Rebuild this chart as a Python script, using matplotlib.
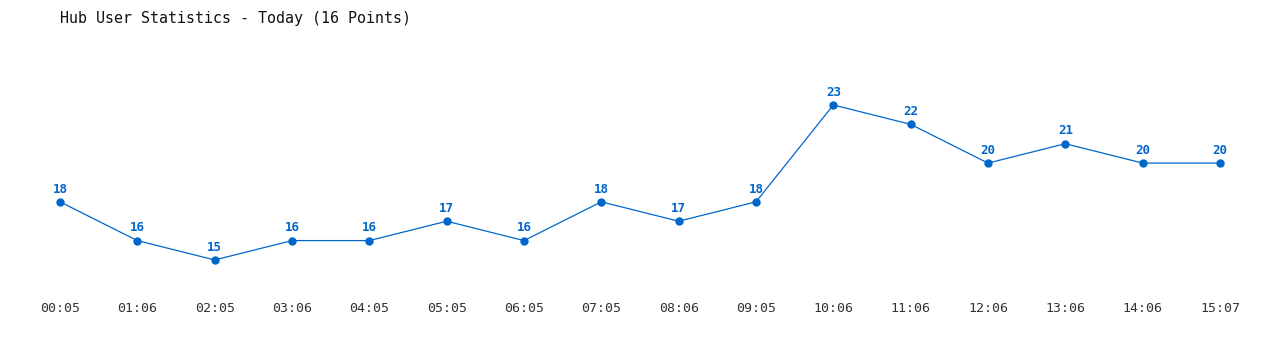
import matplotlib
matplotlib.use("Agg")
import matplotlib.pyplot as plt

times = ["00:05", "01:06", "02:05", "03:06", "04:05", "05:05", "06:05", "07:05",
         "08:06", "09:05", "10:06", "11:06", "12:06", "13:06", "14:06", "15:07"]
users = [18, 16, 15, 16, 16, 17, 16, 18, 17, 18, 23, 22, 20, 21, 20, 20]

blue = "#0066cc"
mono = "DejaVu Sans Mono"

fig = plt.figure(figsize=(12.8, 3.5), dpi=100)
ax = fig.add_axes([60 / 1280, 60 / 350, 1160 / 1280, 230 / 350])

x = list(range(len(users)))
ax.plot(x, users, color=blue, linewidth=0.9, marker="o", markersize=5, clip_on=False)
for xi, v in zip(x, users):
    ax.annotate(str(v), (xi, v), xytext=(0, 4.5), textcoords="offset points",
                ha="center", va="bottom", color=blue, fontsize=9,
                fontweight="bold", family=mono)

ax.set_xlim(0, len(users) - 1)
ax.set_ylim(13.45, 25.32)
ax.set_xticks(x)
ax.set_xticklabels(times, family=mono, fontsize=9.5, color="#333333")
ax.tick_params(axis="x", length=0, pad=8.5)
ax.set_yticks([])
for s in ax.spines.values():
    s.set_visible(False)

fig.text(60 / 1280, 1 - 18 / 350, "Hub User Statistics - Today (16 Points)",
         family=mono, fontsize=10.8, color="#111111", va="center", ha="left")

fig.savefig("out.png", dpi=100, facecolor="white")
